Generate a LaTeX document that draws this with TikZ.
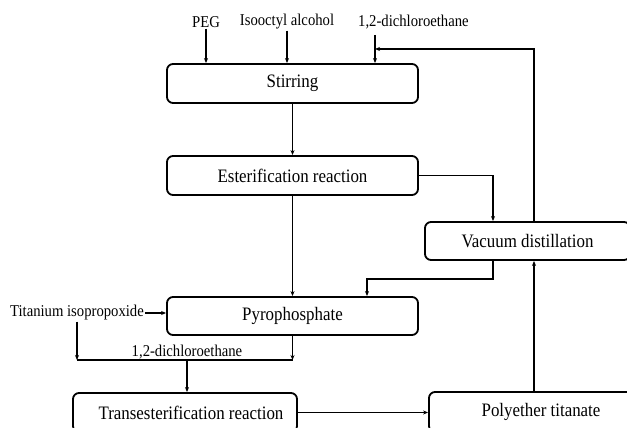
\documentclass[tikz,border=0pt]{standalone}
\usepackage{fontspec}
\setmainfont[FakeStretch=0.89]{Liberation Serif}
\usetikzlibrary{arrows.meta,calc}
\begin{document}
\begin{tikzpicture}[x=1pt,y=-1pt,
  box/.style={draw,line width=1.8pt,rounded corners=6pt,inner sep=0pt,
    font=\fontsize{19}{22}\selectfont},
  lab/.style={inner sep=1pt,font=\fontsize{16.5}{19}\selectfont},
  con/.style={line width=1.2pt},
  arr/.style={con,-{Stealth[length=5pt,width=4pt]}}]
\useasboundingbox (0,0) rectangle (627,428);
% boxes
\node[box,minimum width=251pt,minimum height=39pt] (stir) at (292.5,83.5) {Stirring};
\node[box,minimum width=251pt,minimum height=39pt] (ester) at (292.5,175.5) {Esterification reaction};
\node[box,minimum width=251pt,minimum height=38pt] (pyro) at (292.5,316) {Pyrophosphate};
\node[box,minimum width=205pt,minimum height=38pt] (vac) at (527.5,241) {Vacuum distillation};
\node[box,minimum width=224pt,minimum height=40pt] (poly) at (541,412) {Polyether titanate};
\node[box,minimum width=224pt,minimum height=39pt] (trans) at (185,412.5) {\hspace*{12pt}Transesterification reaction};
% labels
\node[lab] (peg) at (206,22) {PEG};
\node[lab] (iso) at (287,22) {Isooctyl alcohol};
\node[lab,anchor=west] (dce1) at (357,22) {1,2-dichloroethane};
\node[lab] (ti) at (77,313) {Titanium isopropoxide};
\node[lab] (dce2) at (187,352) {1,2-dichloroethane};
% coordinates
\coordinate (d1) at (375,35);
\coordinate (fb) at (375,49);
\coordinate (jl) at (77,360);
% inputs to stirring
\draw[arr] (peg.south) -- (peg.south |- stir.north);
\draw[arr] (iso.south) -- (iso.south |- stir.north);
\draw[arr] (d1) -- (d1 |- stir.north);
% recycle
\draw[arr] ([xshift=6.5pt]vac.north) |- (fb);
% main chain
\draw[arr] (stir) -- (ester);
\draw[arr] (ester) -- (pyro);
\draw[arr] (ester.east) -| ([xshift=-34.5pt]vac.north);
\draw[arr] ([xshift=-34.5pt]vac.south) -- ++(0,18) -| ([xshift=74.5pt]pyro.north);
% titanium
\draw[arr] (ti.east) -- (ti.east -| pyro.west);
\draw[arr] (ti.south) -- (jl);
\draw[arr] (pyro.south) -- (pyro.south |- jl);
\draw[con] (jl) -- (pyro.south |- jl);
\draw[arr] ([xshift=2pt]trans.north |- jl) -- ([xshift=2pt]trans.north);
\draw[arr] (trans.east) -- (trans.east -| poly.west);
\draw[arr] ([xshift=6.5pt]vac.south |- poly.north) -- ([xshift=6.5pt]vac.south);
\end{tikzpicture}
\end{document}
